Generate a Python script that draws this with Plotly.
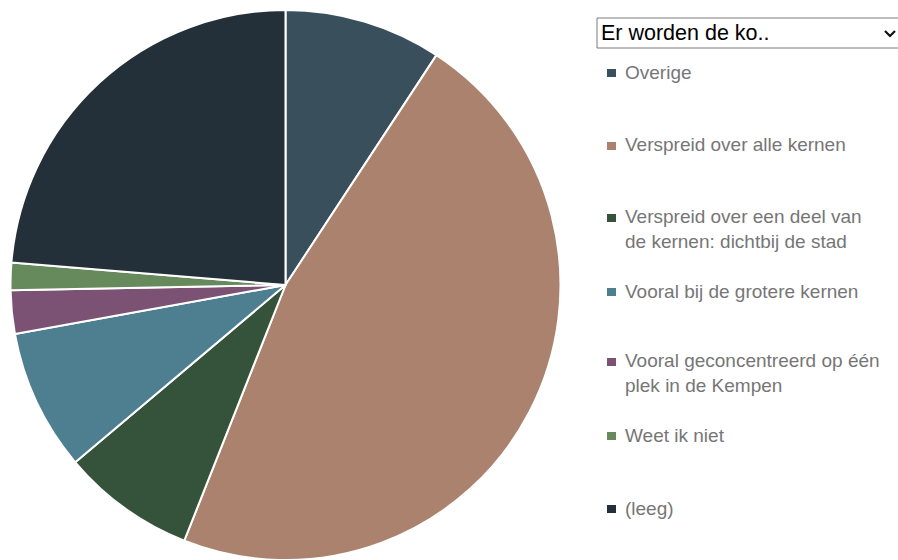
import plotly.graph_objects as go

labels = [
    "Overige",
    "Verspreid over alle kernen",
    "Verspreid over een deel van<br>de kernen: dichtbij de stad",
    "Vooral bij de grotere kernen",
    "Vooral geconcentreerd op één<br>plek in de Kempen",
    "Weet ik niet",
    "(leeg)",
]
values = [9.25, 46.75, 7.85, 8.3, 2.55, 1.6, 23.7]
colors = ["#39505c", "#ab826e", "#35523a", "#4e7f90", "#7b5274", "#678a5c", "#243039"]
dropdown_text = "Er worden de ko.."

W, H = 898, 560

def px(x):
    return x / W

def py(y):
    return 1 - y / H

fig = go.Figure(go.Pie(
    labels=[l.replace("<br>", " ") for l in labels],
    values=values,
    sort=False,
    direction="clockwise",
    rotation=0,
    marker=dict(colors=colors, line=dict(color="white", width=2)),
    textinfo="none",
    hoverinfo="none",
    domain=dict(x=[px(10.5), px(560.5)], y=[0, py(10)]),
    showlegend=False,
))

shapes = []
annotations = []

# dropdown box
shapes.append(dict(type="rect", xref="paper", yref="paper",
                   x0=px(597), x1=px(905), y0=py(48), y1=py(18),
                   line=dict(color="#7a7a7a", width=1), fillcolor="white", layer="above"))
shapes.append(dict(type="path", xref="paper", yref="paper",
                   path=f"M {px(885)} {py(31)} L {px(890)} {py(36)} L {px(895)} {py(31)}",
                   line=dict(color="#111111", width=2.2), layer="above"))
annotations.append(dict(text=dropdown_text, xref="paper", yref="paper",
                        x=px(599), y=py(33), xanchor="left", yanchor="middle",
                        showarrow=False,
                        font=dict(family="Liberation Sans, Arial", size=21.5, color="#000000")))

# legend
first_line_y = [72, 145, 217, 291, 361, 435, 508]
for lab, col, y in zip(labels, colors, first_line_y):
    nlines = lab.count("<br>") + 1
    center = y + (nlines - 1) * 24 / 2
    shapes.append(dict(type="rect", xref="paper", yref="paper",
                       x0=px(607), x1=px(616), y0=py(y + 5), y1=py(y - 3),
                       line=dict(width=0), fillcolor=col, layer="above"))
    annotations.append(dict(text=lab, xref="paper", yref="paper",
                            x=px(623), y=py(center), xanchor="left", yanchor="middle",
                            align="left", showarrow=False,
                            font=dict(family="Liberation Sans, Arial", size=19, color="#767676")))

fig.update_layout(
    width=W, height=H,
    margin=dict(l=0, r=0, t=0, b=0),
    paper_bgcolor="white",
    plot_bgcolor="white",
    shapes=shapes,
    annotations=annotations,
)

fig.write_html("out.html", config={"displayModeBar": False},
               post_script="document.body.style.margin='0';")
